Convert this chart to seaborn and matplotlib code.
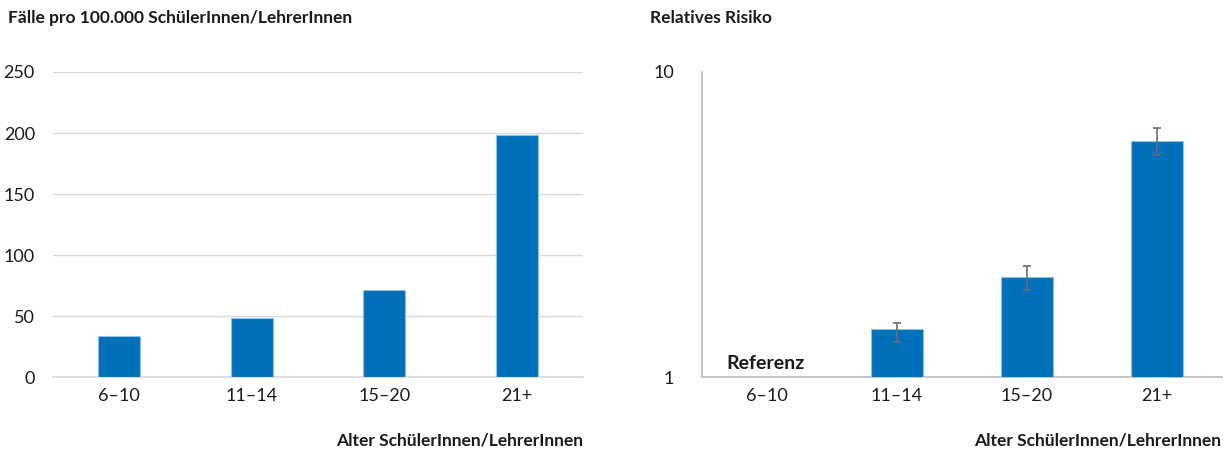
import matplotlib
matplotlib.use("Agg")
import matplotlib.pyplot as plt
import seaborn as sns
import numpy as np
import pandas as pd

# Data
age_groups = ["6–10", "11–14", "15–20", "21+"]
cases_per_100k = [34, 48, 71, 198]
relative_risk = [1.0, 1.44, 2.13, 5.94]
rr_lower = [np.nan, 1.30, 1.93, 5.34]
rr_upper = [np.nan, 1.50, 2.31, 6.55]
left_yticks = [0, 50, 100, 150, 200, 250]
right_yticks = [1, 10]

BLUE = "#0070BA"
EDGE = "#8FC1E3"
GRID = "#DADADA"
TEXT = "#1a1a1a"

sns.set_theme(style="white")
plt.rcParams["font.family"] = ["Lato", "DejaVu Sans"]

fig = plt.figure(figsize=(12.31, 4.5), dpi=100)
ax1 = fig.add_axes([0.043, 0.1622, 0.4306, 0.6778])
ax2 = fig.add_axes([0.5703, 0.1622, 0.4224, 0.6778])

# Left panel: cases per 100,000
df1 = pd.DataFrame({"age": age_groups, "cases": cases_per_100k})
sns.barplot(data=df1, x="age", y="cases", color=BLUE, width=0.32,
            edgecolor=EDGE, linewidth=0.8, saturation=1, ax=ax1, zorder=3)
ax1.set_ylim(0, 250)
ax1.set_yticks(left_yticks)
ax1.set_xlim(-0.5, 3.5)
ax1.yaxis.grid(True, color=GRID, linewidth=1, zorder=0)
ax1.set_axisbelow(True)
for s in ["left", "right", "top"]:
    ax1.spines[s].set_visible(False)
ax1.spines["bottom"].set_color(GRID)
ax1.tick_params(axis="y", length=0, pad=13, labelsize=13, labelcolor=TEXT)
ax1.tick_params(axis="x", length=0, pad=8, labelsize=13, labelcolor=TEXT)
ax1.set_xlabel("")
ax1.set_ylabel("")

# Right panel: relative risk on a log scale
df2 = pd.DataFrame({"age": age_groups, "rr": relative_risk})
sns.barplot(data=df2, x="age", y="rr", color=BLUE, width=0.4,
            edgecolor=EDGE, linewidth=0.8, saturation=1, ax=ax2, zorder=3)
ax2.set_yscale("log")
ax2.set_ylim(1, 10)
ax2.set_yticks(right_yticks)
ax2.set_yticklabels([str(t) for t in right_yticks])
ax2.yaxis.set_minor_locator(matplotlib.ticker.NullLocator())
ax2.set_xlim(-0.5, 3.5)
rr = np.array(relative_risk)
lo = np.array(rr_lower)
hi = np.array(rr_upper)
idx = np.arange(len(age_groups))[1:]
ax2.errorbar(idx, rr[1:], yerr=[rr[1:] - lo[1:], hi[1:] - rr[1:]],
             fmt="none", ecolor="#6b6b6b", elinewidth=1.2, capsize=3,
             capthick=1.2, zorder=4)
for s in ["right", "top"]:
    ax2.spines[s].set_visible(False)
ax2.spines["left"].set_color("#BDBDBD")
ax2.spines["bottom"].set_color("#BDBDBD")
ax2.tick_params(axis="y", length=0, pad=20, labelsize=13, labelcolor=TEXT)
ax2.tick_params(axis="x", length=0, pad=8, labelsize=13, labelcolor=TEXT)
ax2.set_xlabel("")
ax2.set_ylabel("")
ax2.text(-0.31, 1.04, "Referenz", fontsize=14, fontweight="bold",
         color=TEXT, ha="left", va="bottom")

# Titles and axis captions
fig.text(8 / 1231, 1 - 18 / 450, "Fälle pro 100.000 SchülerInnen/LehrerInnen",
         fontsize=12.5, fontweight="bold", color=TEXT, ha="left", va="center")
fig.text(650 / 1231, 1 - 18 / 450, "Relatives Risiko",
         fontsize=12.5, fontweight="bold", color=TEXT, ha="left", va="center")
fig.text(583 / 1231, 1 - 440 / 450, "Alter SchülerInnen/LehrerInnen",
         fontsize=12.5, fontweight="bold", color=TEXT, ha="right", va="center")
fig.text(1221 / 1231, 1 - 440 / 450, "Alter SchülerInnen/LehrerInnen",
         fontsize=12.5, fontweight="bold", color=TEXT, ha="right", va="center")

fig.savefig("out.png", dpi=100)
